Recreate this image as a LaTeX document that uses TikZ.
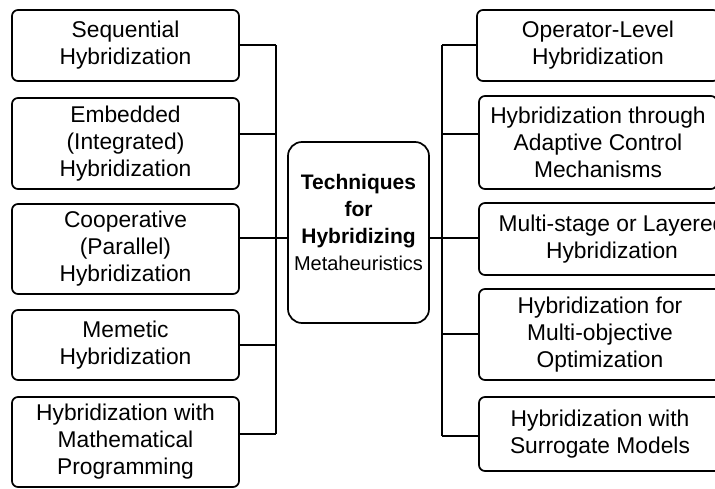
\documentclass[tikz,border=0pt]{standalone}
\usepackage{fontspec}
\setmainfont{Liberation Sans}
\begin{document}
\begin{tikzpicture}[x=1pt,y=-1pt,
  box/.style={draw=black,line width=1.7pt,rounded corners=6pt,align=center,inner sep=0pt,
    font=\fontsize{22.8}{27}\selectfont},
  lbox/.style={box,minimum width=227pt},
  rbox/.style={box,minimum width=242pt},
  conn/.style={line width=1.8pt}]
\clip (0,0) rectangle (715,489);
\useasboundingbox (0,0) rectangle (715,489);
% left boxes
\node[lbox,minimum height=71pt] (L1) at (125.5,45.5) {Sequential\\Hybridization};
\node[lbox,minimum height=91pt] (L2) at (125.5,143.5) {Embedded\\(Integrated)\\Hybridization};
\node[lbox,minimum height=90pt] (L3) at (125.5,249) {Cooperative\\(Parallel)\\Hybridization};
\node[lbox,minimum height=70pt] (L4) at (125.5,345) {Memetic\\Hybridization};
\node[lbox,minimum height=90pt] (L5) at (125.5,442) {Hybridization with\\Mathematical\\Programming};
% right boxes
\node[rbox,minimum height=71pt] (R1) at (598,45.5) {Operator-Level\\Hybridization};
\node[rbox,minimum height=93pt,minimum width=238pt] (R2) at (598,142.5) {Hybridization through\\Adaptive Control\\Mechanisms};
\node[rbox,minimum height=72pt,minimum width=266pt] (R3) at (612,239) {Multi-stage or Layered\\Hybridization};
\node[rbox,minimum height=91pt] (R4) at (600,334.5) {Hybridization for\\Multi-objective\\Optimization};
\node[rbox,minimum height=74pt] (R5) at (600,434) {Hybridization with\\Surrogate Models};
% center
\node[draw=black,line width=1.7pt,rounded corners=14pt,minimum width=141pt,minimum height=181pt] (C) at (358.5,232.5) {};
\node[align=center,inner sep=0pt,font=\fontsize{21}{27}\selectfont] (Ct) at (358.5,222.5)
  {\bfseries Techniques\\\bfseries for\\\bfseries Hybridizing\\\fontsize{20}{27}\selectfont Metaheuristics};
% trunks
\coordinate (tl) at (276,0);
\coordinate (tr) at (442,0);
\draw[conn] ([yshift=0.5pt]L1.east) coordinate (a1) -- (a1 -| tl) coordinate (t1);
\draw[conn] ([yshift=9.5pt]L2.east) coordinate (a2) -- (a2 -| tl);
\draw[conn] ([yshift=-5.5pt]C.west) coordinate (a3) -- (a3 -| L3.east);
\draw[conn] (L4.east) coordinate (a4) -- (a4 -| tl);
\draw[conn] ([yshift=8pt]L5.east) coordinate (a5) -- (a5 -| tl) coordinate (t5);
\draw[conn] (t1) -- (t5);
\draw[conn] ([yshift=0.5pt]R1.west) coordinate (b1) -- (b1 -| tr) coordinate (s1);
\draw[conn] ([yshift=8.5pt]R2.west) coordinate (b2) -- (b2 -| tr);
\draw[conn] ([yshift=-5.5pt]C.east) coordinate (b3) -- (b3 -| R3.west);
\draw[conn] ([yshift=0.5pt]R4.west) coordinate (b4) -- (b4 -| tr);
\draw[conn] ([yshift=-2pt]R5.west) coordinate (b5) -- (b5 -| tr) coordinate (s5);
\draw[conn] (s1) -- (s5);
\end{tikzpicture}
\end{document}
